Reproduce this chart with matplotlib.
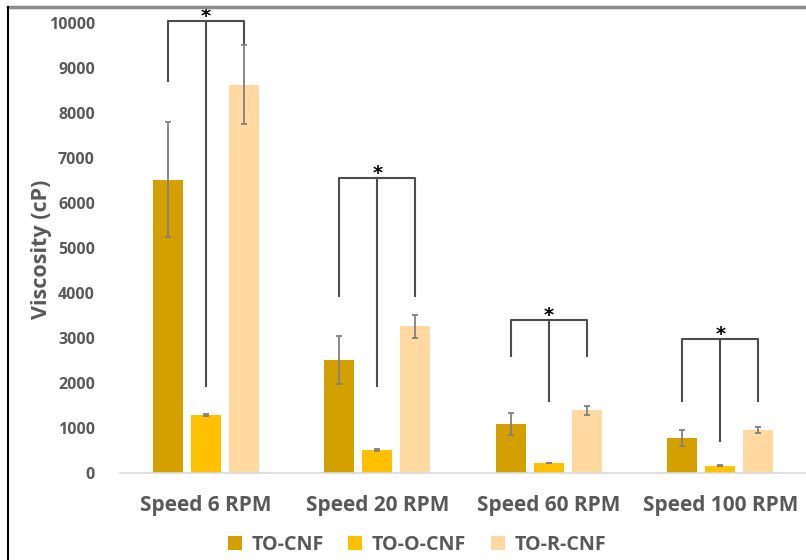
import matplotlib
matplotlib.use("Agg")
import matplotlib.pyplot as plt
import numpy as np
from matplotlib.lines import Line2D

# data
speeds = ['Speed 6 RPM', 'Speed 20 RPM', 'Speed 60 RPM', 'Speed 100 RPM']
series = ['TO-CNF', 'TO-O-CNF', 'TO-R-CNF']
to_cnf = [6520, 2510, 1090, 775]
to_cnf_err = [1270, 530, 245, 180]
to_o_cnf = [1290, 511, 222, 163]
to_o_cnf_err = [25, 15, 10, 8]
to_r_cnf = [8630, 3260, 1390, 950]
to_r_cnf_err = [870, 250, 100, 65]

# significance brackets: bar top, outer leg bottom (left, right), middle leg bottom
brk_top = [10044, 6556, 3400, 2970]
brk_left = [8689, 3918, 2585, 1585]
brk_right = [9540, 3918, 2585, 1585]
brk_mid = [1933, 1933, 1600, 711]

colors = ['#D4A000', '#FFC000', '#FFD9A0']
grey = '#595959'

plt.rcParams['font.family'] = ['Open Sans', 'DejaVu Sans']
plt.rcParams['font.weight'] = 'bold'

fig = plt.figure(figsize=(8.06, 5.6), dpi=100)
ax = fig.add_axes([120 / 806, 1 - 473 / 560, 686 / 806, 450 / 560])

x = np.arange(len(speeds))
w = 0.175
step = 0.2216
vals = [to_cnf, to_o_cnf, to_r_cnf]
errs = [to_cnf_err, to_o_cnf_err, to_r_cnf_err]
for i in range(3):
    ax.bar(x + (i - 1) * step, vals[i], w, color=colors[i], label=series[i],
           yerr=errs[i], error_kw=dict(ecolor='#808080', elinewidth=1.3,
                                       capsize=2.5, capthick=1.3))

# brackets with stars
for g in range(len(speeds)):
    xl = x[g] - step
    xr = x[g] + step
    xm = x[g]
    lc = '#4d4d4d'
    ax.plot([xl, xl, xr, xr], [brk_left[g], brk_top[g], brk_top[g], brk_right[g]],
            color=lc, lw=1.5, clip_on=False, solid_capstyle='butt')
    ax.plot([xm, xm], [brk_top[g], brk_mid[g]], color=lc, lw=1.5, clip_on=False)
    ax.text(xm, brk_top[g] - 20, '*', ha='center', va='baseline', fontsize=14,
            color='black', family='DejaVu Sans', fontweight='bold', clip_on=False)

ax.set_xlim(-0.5, 3.5)
ax.set_ylim(0, 10000)
ax.set_yticks(range(0, 10001, 1000))
ax.set_xticks(x)
ax.set_xticklabels(speeds, fontsize=15, color=grey, fontweight='bold')
ax.tick_params(axis='y', length=0, pad=18, labelsize=11.5, labelcolor=grey)
ax.tick_params(axis='x', length=0, pad=16)
for lab in ax.get_yticklabels():
    lab.set_fontweight('bold')
for s in ['top', 'right', 'left']:
    ax.spines[s].set_visible(False)
ax.spines['bottom'].set_color('#D9D9D9')
ax.spines['bottom'].set_linewidth(1.2)

ax.set_ylabel('Viscosity (cP)', fontsize=15.5, color=grey, fontweight='bold')
ax.yaxis.set_label_coords(-68 / 686, 0.497)

leg = fig.legend(loc='center', bbox_to_anchor=(417 / 806, 1 - 545 / 560), ncol=3,
                 frameon=False, fontsize=14.2, handlelength=0.7, handleheight=0.7,
                 handletextpad=0.5, columnspacing=1.25)
for t in leg.get_texts():
    t.set_color(grey)
    t.set_fontweight('bold')

# outer frame lines of the original image
fig.add_artist(Line2D([8 / 806, 1], [1 - 7 / 560, 1 - 7 / 560], color='#8c8c8c', lw=2.5))
fig.add_artist(Line2D([8 / 806, 8 / 806], [0, 1 - 7 / 560], color='black', lw=1.5))

fig.savefig('out.png', dpi=100)
